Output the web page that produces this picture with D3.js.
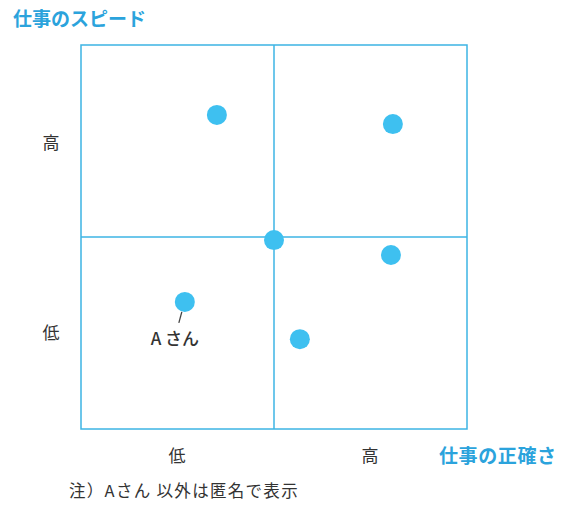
<!DOCTYPE html>
<html>
<head>
<meta charset="utf-8">
<script src="https://cdn.jsdelivr.net/npm/d3@7"></script>
<style>
  body { margin: 0; background: #fff; }
  text { font-family: "Noto Sans CJK JP", "Noto Sans", sans-serif; }
</style>
</head>
<body>
<svg id="chart" width="570" height="512"></svg>
<script>
// data: accuracy (x) and speed (y), 0-10 scale, midpoint 5
const people = ["Aさん", "", "", "", "", ""];
const accuracy = [2.69, 3.52, 8.08, 5.0, 8.03, 5.67];
const speed = [3.31, 8.18, 7.94, 4.92, 4.53, 2.34];
const levelLabels = ["低", "高"];
const levelValues = [2.5, 7.5];

const blue = "#3cb4e4";
const dot = "#3ec0f0";
const titleBlue = "#2ba3dc";

var margin = {top: 45, left: 81},
    width = 386,
    height = 384;

var svg = d3.select("#chart");
var g = svg.append("g")
  .attr("transform", "translate(" + margin.left + "," + margin.top + ")");

var x = d3.scaleLinear().domain([0, 10]).range([0, width]);
var y = d3.scaleLinear().domain([0, 10]).range([height, 0]);

// frame
g.append("rect")
  .attr("x", 0).attr("y", 0)
  .attr("width", width).attr("height", height)
  .attr("fill", "none")
  .attr("stroke", blue)
  .attr("stroke-width", 1.5);

// quadrant lines
g.append("line")
  .attr("x1", x(5)).attr("x2", x(5))
  .attr("y1", 0).attr("y2", height)
  .attr("stroke", blue).attr("stroke-width", 1.5);
g.append("line")
  .attr("x1", 0).attr("x2", width)
  .attr("y1", y(5)).attr("y2", y(5))
  .attr("stroke", blue).attr("stroke-width", 1.5);

// points
var data = accuracy.map((a, i) => ({name: people[i], x: a, y: speed[i]}));

g.selectAll(".pt")
  .data(data)
  .enter().append("circle")
  .attr("class", "pt")
  .attr("cx", d => x(d.x))
  .attr("cy", d => y(d.y))
  .attr("r", 10)
  .attr("fill", dot);

// label for A
var a = data[0];
g.append("line")
  .attr("x1", x(a.x) - 3).attr("y1", y(a.y) + 10)
  .attr("x2", x(a.x) - 6).attr("y2", y(a.y) + 21)
  .attr("stroke", "#444").attr("stroke-width", 1.3);
g.append("text")
  .attr("x", x(a.x) - 10)
  .attr("y", y(a.y) + 43)
  .attr("text-anchor", "middle")
  .attr("font-size", 17)
  .attr("font-weight", 500)
  .attr("fill", "#333")
  .text(a.name.replace("A", "A "));

// x axis labels
g.selectAll(".xl")
  .data(levelLabels)
  .enter().append("text")
  .attr("x", (d, i) => x(levelValues[i]) - 0.5)
  .attr("y", height + 33)
  .attr("text-anchor", "middle")
  .attr("font-size", 17)
  .attr("fill", "#333")
  .text(d => d);

// y axis labels
g.selectAll(".yl")
  .data(levelLabels)
  .enter().append("text")
  .attr("x", -30)
  .attr("y", (d, i) => y(levelValues[i]) + (i ? 2 : 0))
  .attr("dy", "0.35em")
  .attr("text-anchor", "middle")
  .attr("font-size", 17)
  .attr("fill", "#333")
  .text(d => d);

// axis titles
svg.append("text")
  .attr("x", 13).attr("y", 26)
  .attr("font-size", 19)
  .attr("font-weight", "bold")
  .attr("fill", titleBlue)
  .text("仕事のスピード");

svg.append("text")
  .attr("x", 439).attr("y", 463)
  .attr("font-size", 19)
  .attr("font-weight", "bold")
  .attr("letter-spacing", 0.6)
  .attr("fill", titleBlue)
  .text("仕事の正確さ");

// note
svg.append("text")
  .attr("x", 69).attr("y", 497)
  .attr("font-size", 16.5)
  .attr("letter-spacing", 1.3)
  .attr("fill", "#333")
  .text("注）Aさん 以外は匿名で表示");
</script>
</body>
</html>
